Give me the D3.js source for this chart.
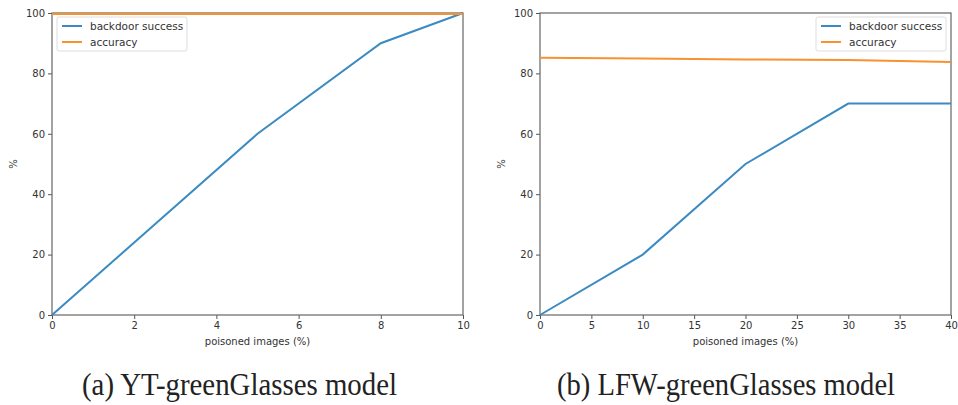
<!DOCTYPE html>
<html>
<head>
<meta charset="utf-8">
<script src="https://cdn.jsdelivr.net/npm/d3@7"></script>
<style>
  body { margin: 0; background: #fff; }
  svg { display: block; }
  .tick text { font-family: "DejaVu Sans", sans-serif; font-size: 10px; fill: #333; }
</style>
</head>
<body>
<svg id="chart" width="958" height="405"></svg>
<script>
// Panel (a): YT-greenGlasses
const ytPoisoned = [0, 5, 8, 10];
const ytBackdoor = [0, 60, 90, 100];
const ytAccuracy = [99.7, 99.7, 99.7, 99.7];
const ytTicksX = [0, 2, 4, 6, 8, 10];

// Panel (b): LFW-greenGlasses
const lfwPoisoned = [0, 10, 20, 30, 40];
const lfwBackdoor = [0, 20, 50, 70, 70];
const lfwAccuracy = [85.2, 84.9, 84.6, 84.4, 83.8];
const lfwTicksX = [0, 5, 10, 15, 20, 25, 30, 35, 40];

const ticksY = [0, 20, 40, 60, 80, 100];
const seriesNames = ["backdoor success", "accuracy"];
const seriesColors = ["#3b8bc2", "#f7922e"];
const captions = ["(a) YT-greenGlasses model", "(b) LFW-greenGlasses model"];

const svg = d3.select("#chart");

const panels = [
  { x0: 52, x1: 463, xs: ytPoisoned, ys: [ytBackdoor, ytAccuracy], xmax: 10, ticks: ytTicksX,
    legend: "left", caption: captions[0], capX: 82, capW: 315 },
  { x0: 540, x1: 951, xs: lfwPoisoned, ys: [lfwBackdoor, lfwAccuracy], xmax: 40, ticks: lfwTicksX,
    legend: "right", caption: captions[1], capX: 557, capW: 338 }
];

const plotTop = 13, plotBottom = 315;

panels.forEach(p => {
  const g = svg.append("g");
  const x = d3.scaleLinear().domain([0, p.xmax]).range([p.x0, p.x1]);
  const y = d3.scaleLinear().domain([0, 100]).range([plotBottom, plotTop]);

  // axes
  const xAxis = d3.axisBottom(x).tickValues(p.ticks).tickSize(4).tickPadding(3).tickFormat(d3.format("d"));
  const yAxis = d3.axisLeft(y).tickValues(ticksY).tickSize(4).tickPadding(3);
  g.append("g").attr("transform", `translate(0,${plotBottom})`).call(xAxis);
  g.append("g").attr("transform", `translate(${p.x0},0)`).call(yAxis);
  g.selectAll(".domain").remove();
  g.selectAll(".tick line").attr("stroke", "#555");

  // frame
  g.append("rect").attr("x", p.x0).attr("y", plotTop)
    .attr("width", p.x1 - p.x0).attr("height", plotBottom - plotTop)
    .attr("fill", "none").attr("stroke", "#666").attr("stroke-width", 1.2);

  // lines
  const line = d3.line().x((d, i) => x(p.xs[i])).y(d => y(d));
  p.ys.forEach((vals, k) => {
    g.append("path").datum(vals).attr("d", line)
      .attr("fill", "none").attr("stroke", seriesColors[k]).attr("stroke-width", 2);
  });

  // labels
  g.append("text").attr("x", (p.x0 + p.x1) / 2).attr("y", 345)
    .attr("text-anchor", "middle").attr("font-family", "DejaVu Sans, sans-serif")
    .attr("font-size", 10).attr("fill", "#333").text("poisoned images (%)");
  g.append("text").attr("transform", `translate(${p.x0 - 35},${(plotTop + plotBottom) / 2}) rotate(-90)`)
    .attr("text-anchor", "middle").attr("font-family", "DejaVu Sans, sans-serif")
    .attr("font-size", 10).attr("fill", "#333").text("%");

  // legend
  const lw = 130, lh = 34;
  const lx = p.legend === "left" ? p.x0 + 5 : p.x1 - 5 - lw;
  const lg = g.append("g").attr("transform", `translate(${lx},${plotTop + 4})`);
  lg.append("rect").attr("width", lw).attr("height", lh).attr("rx", 2)
    .attr("fill", "#fff").attr("fill-opacity", 0.85).attr("stroke", "#ddd");
  seriesNames.forEach((name, k) => {
    const yy = 9 + k * 16;
    lg.append("line").attr("x1", 5).attr("x2", 25).attr("y1", yy).attr("y2", yy)
      .attr("stroke", seriesColors[k]).attr("stroke-width", 2);
    lg.append("text").attr("x", 33).attr("y", yy + 3.5)
      .attr("font-family", "DejaVu Sans, sans-serif").attr("font-size", 10.5)
      .attr("fill", "#333").text(name);
  });

  // caption
  svg.append("text").attr("x", p.capX).attr("y", 395)
    .attr("font-family", "Liberation Serif, serif").attr("font-size", 31)
    .attr("textLength", p.capW).attr("lengthAdjust", "spacingAndGlyphs")
    .attr("fill", "#222").text(p.caption);
});
</script>
</body>
</html>
